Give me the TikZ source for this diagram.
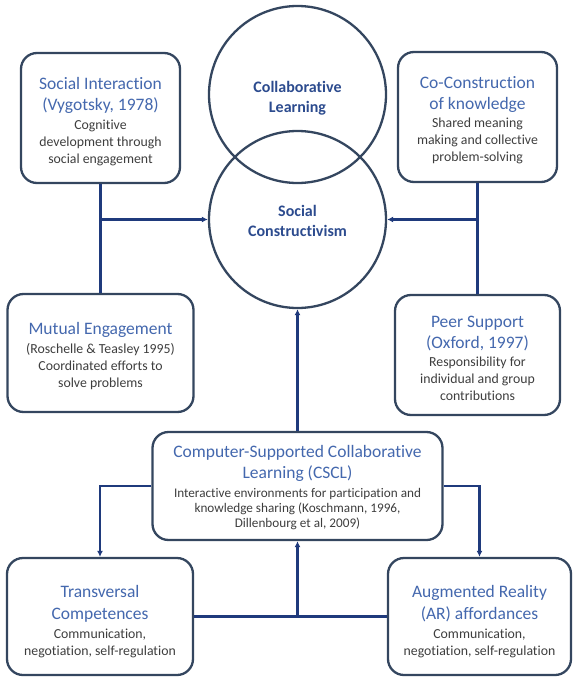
\documentclass[tikz,border=0pt]{standalone}
\usepackage{fontspec}
\setmainfont{Carlito}[Ligatures=NoCommon]
\usetikzlibrary{arrows.meta}
\definecolor{boxline}{HTML}{34465F}
\definecolor{connline}{HTML}{1F3A7C}
\definecolor{titleblue}{HTML}{4468AE}
\definecolor{circblue}{HTML}{2C4B8E}
\definecolor{bodygray}{HTML}{3E3E3E}
\newcommand\ttl[1]{{\fontsize{17.5}{21}\selectfont\color{titleblue}#1}}
\newcommand\tp[1]{\rule{0pt}{#1pt}}
\begin{document}
\begin{tikzpicture}[x=1pt,y=-1pt,
  card/.style={draw=boxline, line width=2.3pt, rounded corners=16pt, fill=white,
    align=center, inner sep=0pt, text=bodygray,
    font=\fontsize{13.8}{16.8}\selectfont},
  ring/.style={draw=boxline, line width=2.3pt, circle, minimum size=177pt, inner sep=0pt,
    align=center, text=circblue, font=\bfseries\fontsize{16}{20}\selectfont},
  conn/.style={draw=connline, line width=2.1pt},
  arr/.style={conn, -{Latex[length=6pt,width=6pt]}}]
\useasboundingbox (0,0) rectangle (580,680);

% circles
\node[ring] (cl) at (297.5,94.5) {\tp{19}Collaborative\\Learning};
\node[ring] (sc) at (297.5,219.5) {\tp{15}Social\\Constructivism};

% boxes
\node[card, minimum width=159pt, minimum height=130pt] (tl) at (100.5,118)
  {\tp{19}\ttl{Social Interaction}\\[4pt]\ttl{(Vygotsky, 1978)}\\[3pt]Cognitive\\development through\\social engagement};
\node[card, minimum width=159pt, minimum height=130pt] (tr) at (477.5,117)
  {\tp{18}\ttl{Co-Construction}\\[4pt]\ttl{of knowledge}\\[2pt]Shared meaning\\making and collective\\problem-solving};
\node[card, minimum width=186pt, minimum height=118pt] (ml) at (100.5,353)
  {\tp{18}\ttl{Mutual Engagement}\\[3pt](Roschelle \& Teasley 1995)\\Coordinated efforts to\\solve problems};
\node[card, minimum width=165pt, minimum height=120pt] (mr) at (477.5,355)
  {\tp{18}\ttl{Peer Support}\\[4pt]\ttl{(Oxford, 1997)}\\[2pt]Responsibility for\\individual and group\\contributions};
\node[card, minimum width=290pt, minimum height=108pt, font=\fontsize{13.2}{15}\selectfont] (cscl) at (297.5,486)
  {\tp{15}\ttl{Computer-Supported Collaborative}\\[5pt]\ttl{Learning (CSCL)}\\[4pt]Interactive environments for participation and\\knowledge sharing (Koschmann, 1996,\\Dillenbourg et al, 2009)};
\node[card, minimum width=186pt, minimum height=117pt] (bl) at (100,616.5)
  {\tp{22}\ttl{Transversal}\\[5pt]\ttl{Competences}\\[2pt]Communication,\\negotiation, self-regulation};
\node[card, minimum width=183pt, minimum height=117pt] (br) at (479.5,616.5)
  {\tp{22}\ttl{Augmented Reality}\\[5pt]\ttl{(AR) affordances}\\[2pt]Communication,\\negotiation, self-regulation};

% connectors
\draw[conn] (tl.south) -- (ml.north);
\draw[arr] (tl.south |- sc.west) -- (sc.west);
\draw[conn] (tr.south) -- (mr.north);
\draw[arr] (tr.south |- sc.east) -- (sc.east);
\draw[arr] (cscl.north) -- (sc.south);
\draw[arr] (cscl.west) -| (bl.north);
\draw[arr] (cscl.east) -| (br.north);
\draw[conn] (bl.east) -- (br.west);
\draw[arr] (cscl.south |- bl.east) -- (cscl.south);
\end{tikzpicture}
\end{document}
